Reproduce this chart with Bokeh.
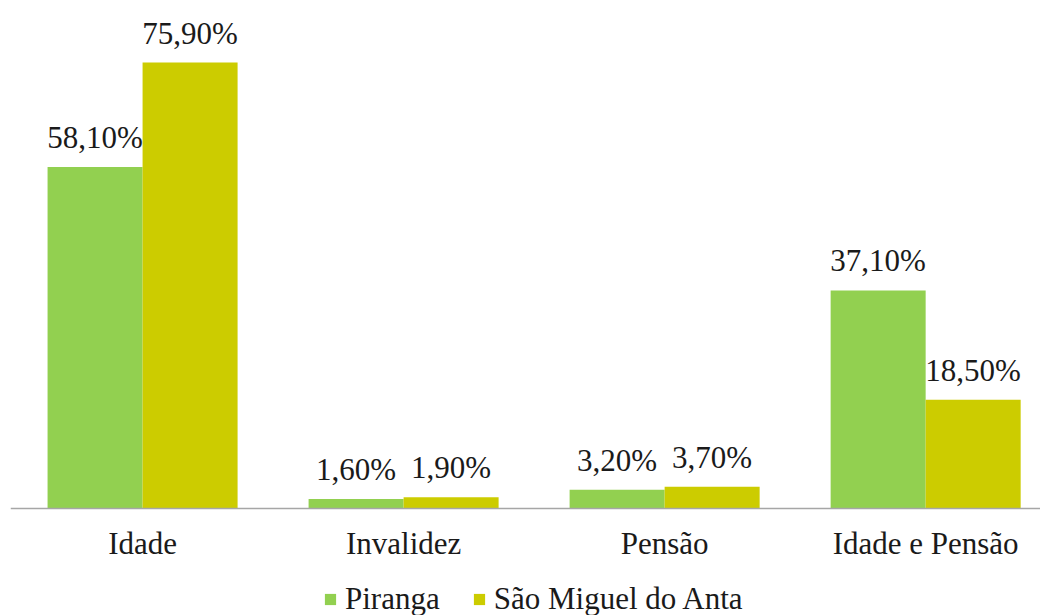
from bokeh.plotting import figure
from bokeh.models import (ColumnDataSource, Range1d, FixedTicker, LabelSet, Legend, LegendItem)
from bokeh.embed import file_html
from bokeh.resources import INLINE

categories = ["Idade", "Invalidez", "Pensão", "Idade e Pensão"]
series_names = ["Piranga", "São Miguel do Anta"]
piranga = [58.1, 1.6, 3.2, 37.1]
sao_miguel = [75.9, 1.9, 3.7, 18.5]
colors = ["#92D050", "#CCCC00"]

FONT = "Liberation Serif"
FS = "31px"
BAR_W = 0.364
centers = [i + 0.5 for i in range(len(categories))]

def fmt(v):
    return f"{v:.2f}%".replace(".", ",")

# frame spans from the top margin down to the bottom of the window;
# the category axis is pinned at y = 0 inside it
p = figure(frame_width=1030, frame_height=605, output_backend="svg", toolbar_location=None,
           x_range=Range1d(-0.006, 3.94), y_range=Range1d(-18.21, 84.75),
           y_axis_location=None,
           min_border_left=10, min_border_right=0, min_border_top=10, min_border_bottom=0)
p.xgrid.visible = False
p.ygrid.visible = False
p.outline_line_color = None
p.background_fill_color = "white"
p.border_fill_color = "white"

renderers = []
for k, (vals, col) in enumerate(zip([piranga, sao_miguel], colors)):
    off = (k - 0.5) * BAR_W
    xs = [c + off for c in centers]
    src = ColumnDataSource(dict(x=xs, top=vals, label=[fmt(v) for v in vals]))
    r = p.vbar(x="x", top="top", width=BAR_W, bottom=0, source=src,
               fill_color=col, line_color=None)
    renderers.append(r)
    lbl = LabelSet(x="x", y="top", text="label", source=src, y_offset=19,
                   text_align="center", text_baseline="alphabetic",
                   text_font=FONT, text_font_size=FS, text_color="#1a1a1a")
    p.add_layout(lbl)

ax = p.xaxis[0]
ax.fixed_location = 0
ax.ticker = FixedTicker(ticks=centers)
ax.major_label_overrides = {c: name for c, name in zip(centers, categories)}
ax.major_tick_in = 0
ax.major_tick_out = 0
ax.minor_tick_in = 0
ax.minor_tick_out = 0
ax.axis_line_color = "#A6A6A6"
ax.axis_line_width = 1.5
ax.major_label_text_font = FONT
ax.major_label_text_font_size = FS
ax.major_label_text_color = "#1a1a1a"
ax.major_label_standoff = 18

legend = Legend(items=[LegendItem(label=n, renderers=[r]) for n, r in zip(series_names, renderers)],
                orientation="horizontal", location=(313, -2),
                glyph_width=14, glyph_height=14, label_standoff=8, spacing=32,
                padding=0, margin=0, border_line_color=None, background_fill_alpha=0,
                label_text_font=FONT, label_text_font_size=FS, label_text_color="#1a1a1a")
p.add_layout(legend, "center")

open("out.html", "w").write(file_html(p, INLINE))
